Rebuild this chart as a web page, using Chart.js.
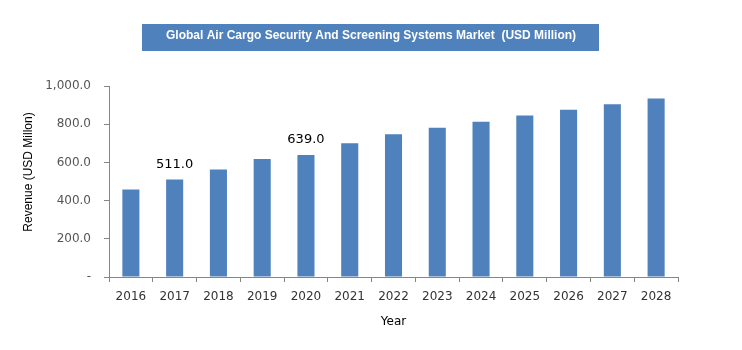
<!DOCTYPE html>
<html>
<head>
<meta charset="utf-8">
<script src="https://cdn.jsdelivr.net/npm/chart.js@4.4.1/dist/chart.umd.min.js"></script>
<style>
  html, body { margin: 0; padding: 0; background: #ffffff; }
  #wrap { width: 742px; height: 350px; position: relative; }
</style>
</head>
<body>
<div id="wrap"><canvas id="c" width="742" height="350"></canvas></div>
<script>
const chartTitle = 'Global Air Cargo Security And Screening Systems Market  (USD Million)';
const years = ['2016','2017','2018','2019','2020','2021','2022','2023','2024','2025','2026','2027','2028'];
const revenue = [458, 511, 563, 618, 639, 700, 747, 782, 813, 845, 876, 905, 934];
const labeledYears = ['2017', '2020'];
const yTickValues = [0, 200, 400, 600, 800, 1000];
const yTickLabels = ['-', '200.0', '400.0', '600.0', '800.0', '1,000.0'];
const xAxisTitle = 'Year';
const yAxisTitle = 'Revenue (USD Millon)';

const BAR_COLOR = '#4F81BD';
const AXIS_COLOR = '#868686';

const titleBoxPlugin = {
  id: 'titleBox',
  beforeDraw(chart) {
    const ctx = chart.ctx;
    ctx.save();
    ctx.fillStyle = BAR_COLOR;
    ctx.fillRect(142, 24, 457, 27);
    ctx.fillStyle = '#ffffff';
    ctx.font = 'bold 12px "Liberation Sans", Arial, sans-serif';
    ctx.textAlign = 'center';
    ctx.textBaseline = 'middle';
    ctx.fillText(chartTitle, 371, 36);
    ctx.restore();
  }
};

const yTitlePlugin = {
  id: 'yTitle',
  afterDraw(chart) {
    const ctx = chart.ctx;
    ctx.save();
    ctx.translate(29, 172);
    ctx.rotate(-Math.PI / 2);
    ctx.fillStyle = '#000000';
    ctx.font = '12px "Liberation Sans", Arial, sans-serif';
    ctx.textAlign = 'center';
    ctx.textBaseline = 'middle';
    ctx.fillText(yAxisTitle, 0, 0);
    ctx.restore();
  }
};

const valueLabelPlugin = {
  id: 'valueLabels',
  afterDatasetsDraw(chart) {
    const ctx = chart.ctx;
    const meta = chart.getDatasetMeta(0);
    ctx.save();
    ctx.fillStyle = '#000000';
    ctx.font = '13px "DejaVu Sans", sans-serif';
    ctx.textAlign = 'center';
    ctx.textBaseline = 'middle';
    meta.data.forEach((bar, i) => {
      if (labeledYears.includes(years[i])) {
        ctx.fillText(revenue[i].toFixed(1), bar.x, bar.y - 15);
      }
    });
    ctx.restore();
  }
};

new Chart(document.getElementById('c'), {
  type: 'bar',
  data: {
    labels: years,
    datasets: [{
      data: revenue,
      backgroundColor: BAR_COLOR,
      borderWidth: 0,
      categoryPercentage: 1.0,
      barPercentage: 0.39
    }]
  },
  options: {
    responsive: false,
    animation: false,
    devicePixelRatio: 1,
    layout: { padding: { top: 86, right: 64, bottom: 0, left: 0 } },
    plugins: {
      legend: { display: false },
      tooltip: { enabled: false },
      title: { display: false }
    },
    scales: {
      x: {
        grid: {
          display: true,
          drawOnChartArea: false,
          drawTicks: true,
          tickLength: 5,
          color: AXIS_COLOR,
          offset: true
        },
        border: { display: true, color: AXIS_COLOR, width: 1 },
        ticks: {
          color: '#333333',
          font: { family: '"DejaVu Sans", sans-serif', size: 12 },
          padding: 8,
          maxRotation: 0,
          autoSkip: false
        },
        title: {
          display: true,
          text: xAxisTitle,
          color: '#000000',
          font: { family: '"DejaVu Sans", sans-serif', size: 12 },
          padding: { top: 0, bottom: 21 }
        },
        afterFit(scale) { scale.height = 73; }
      },
      y: {
        min: 0,
        max: 1000,
        afterBuildTicks(scale) {
          scale.ticks = yTickValues.map(v => ({ value: v }));
        },
        grid: {
          display: true,
          drawOnChartArea: false,
          drawTicks: true,
          tickLength: 5,
          color: AXIS_COLOR
        },
        border: { display: true, color: AXIS_COLOR, width: 1 },
        ticks: {
          color: '#555555',
          font: { family: '"DejaVu Sans", sans-serif', size: 12 },
          padding: 13,
          callback(value) {
            const idx = yTickValues.indexOf(value);
            return idx >= 0 ? yTickLabels[idx] : '';
          }
        },
        title: { display: false },
        afterFit(scale) { scale.width = 109; }
      }
    }
  },
  plugins: [titleBoxPlugin, valueLabelPlugin, yTitlePlugin]
});
</script>
</body>
</html>
